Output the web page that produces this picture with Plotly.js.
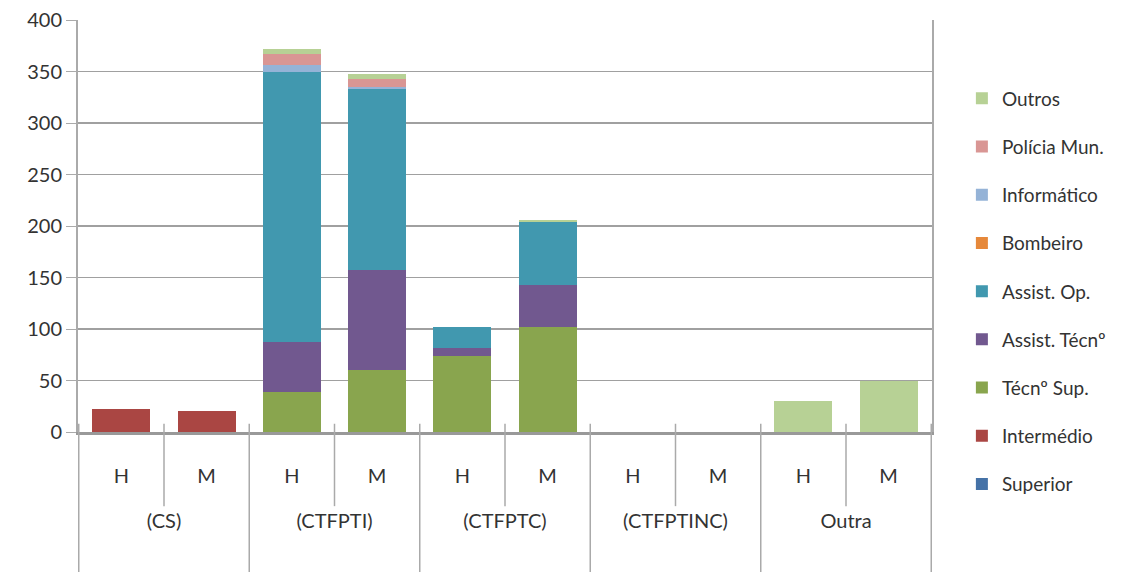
<!DOCTYPE html>
<html>
<head>
<meta charset="utf-8">
<script src="https://cdn.plot.ly/plotly-3.0.1.min.js"></script>
<style>html,body{margin:0;padding:0;background:#fff;}#chart{width:1137px;height:572px;}</style>
</head>
<body>
<div id="chart"></div>
<script>
const groups = ["(CS)","(CS)","(CTFPTI)","(CTFPTI)","(CTFPTC)","(CTFPTC)","(CTFPTINC)","(CTFPTINC)","Outra","Outra"];
const sexes = ["H","M","H","M","H","M","H","M","H","M"];

const superior    = [0, 0, 0, 0, 0, 0, 0, 0, 0, 0];
const intermedio  = [22, 20, 0, 0, 0, 0, 0, 0, 0, 0];
const tecnSup     = [0, 0, 39, 60, 74, 102, 0, 0, 0, 0];
const assistTecn  = [0, 0, 48, 97, 8, 41, 0, 0, 0, 0];
const assistOp    = [0, 0, 263, 176, 20, 61, 0, 0, 0, 0];
const bombeiro    = [0, 0, 0, 0, 0, 0, 0, 0, 0, 0];
const informatico = [0, 0, 6, 2, 0, 0, 0, 0, 0, 0];
const policia     = [0, 0, 11, 8, 0, 0, 0, 0, 0, 0];
const outros      = [0, 0, 5, 5, 0, 2, 0, 0, 30, 50];

const seriesNames = ["Superior","Intermédio","Técnº Sup.","Assist. Técnº","Assist. Op.","Bombeiro","Informático","Polícia Mun.","Outros"];
const seriesVals = [superior, intermedio, tecnSup, assistTecn, assistOp, bombeiro, informatico, policia, outros];
const colors = ["#4572a7","#aa4643","#89a54e","#71588f","#4198af","#e6883a","#95b3d7","#d99694","#b7d195"];

const traces = seriesNames.map((n, i) => ({
  type: "bar",
  name: n,
  x: [groups, sexes.map(s => s + "<br><span style='font-size:56px'> </span>")],
  y: seriesVals[i],
  marker: {color: colors[i], line: {width: 0}},
  legendgroup: n,
  legendrank: seriesNames.length - i,
  hoverinfo: "y+name"
}));

// short separators between H and M inside each group
const innerSeps = [0.5, 2.5, 4.5, 6.5, 8.5].map(p => ({
  type: "line", xref: "x", yref: "paper",
  x0: p, x1: p, y0: 0.02, y1: -0.18,
  line: {color: "#aaa", width: 1.5}
}));
// long separators between groups, down to the page bottom
const outerSeps = [-0.5, 1.5, 3.5, 5.5, 7.5, 9.5].map(p => ({
  type: "line", xref: "x", yref: "paper",
  x0: p, x1: p, y0: 0.02, y1: -0.36,
  line: {color: "#aaa", width: 1.5}
}));

const font = "Lato, 'Open Sans', 'DejaVu Sans', sans-serif";
const layout = {
  width: 1137, height: 572,
  margin: {l: 78, r: 205, t: 20, b: 140},
  barmode: "stack",
  bargap: 0.32,
  paper_bgcolor: "#fff",
  plot_bgcolor: "#fff",
  font: {family: font, size: 20, color: "#333"},
  xaxis: {
    type: "multicategory",
    tickfont: {family: font, size: 20, color: "#333"},
    showdividers: false,
    showline: true,
    linecolor: "#999",
    linewidth: 2.5,
    ticklabelstandoff: 24,
    showgrid: false
  },
  yaxis: {
    range: [0, 400],
    dtick: 50,
    tickfont: {family: font, size: 20, color: "#333"},
    gridcolor: "#a0a0a0",
    gridwidth: 1.5,
    showline: true,
    linecolor: "#aaa",
    linewidth: 2,
    mirror: true,
    ticks: "outside",
    ticklen: 10,
    tickcolor: "#aaa",
    zeroline: false
  },
  legend: {
    x: 1.035, xanchor: "left",
    y: 0.341, yanchor: "middle",
    maxheight: 560,
    traceorder: "grouped",
    tracegroupgap: 20.5,
    font: {family: font, size: 19, color: "#333"},
    bgcolor: "rgba(0,0,0,0)"
  },
  shapes: innerSeps.concat(outerSeps),
  showlegend: true
};

Plotly.newPlot("chart", traces, layout, {displayModeBar: false, staticPlot: true});
</script>
</body>
</html>
